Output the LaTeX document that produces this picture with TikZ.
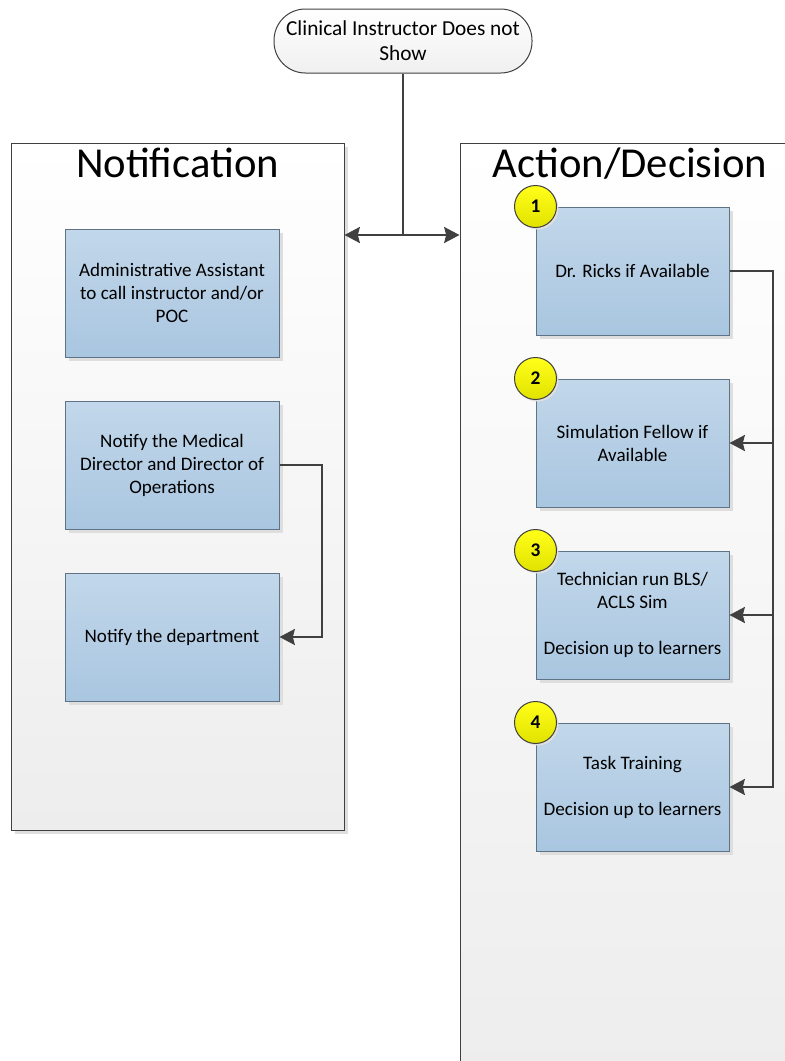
\documentclass[tikz,border=0pt]{standalone}
\usepackage{fontspec}
\setmainfont{Carlito}
\usetikzlibrary{arrows.meta,shadows,calc}
\definecolor{linec}{HTML}{404040}
\definecolor{boxtop}{HTML}{C2D7EA}
\definecolor{boxbot}{HTML}{A9C6E0}
\definecolor{boxborder}{HTML}{5F7286}
\definecolor{lanebot}{HTML}{EDEDED}
\definecolor{ytop}{HTML}{FFFF1A}
\definecolor{ybot}{HTML}{E2E200}
\begin{document}
\begin{tikzpicture}[x=0.75pt,y=-0.75pt,
  boxfont/.style={font=\fontsize{14.3}{17.3}\selectfont},
  shad/.style={drop shadow={shadow xshift=3pt,shadow yshift=-3pt,fill=black!13,opacity=1}},
  lane/.style={draw=linec,line width=0.75pt,top color=white,bottom color=lanebot,shad,inner sep=0pt},
  lanetitle/.style={anchor=base,font=\fontsize{32}{38}\selectfont},
  taskbox/.style={draw=boxborder,line width=0.75pt,top color=boxtop,bottom color=boxbot,shad,
    minimum height=96pt,align=center,boxfont,inner sep=2pt},
  lbox/.style={taskbox,minimum width=160.5pt},
  rbox/.style={taskbox,minimum width=144.75pt},
  numc/.style={circle,draw=linec,line width=0.75pt,top color=ytop,bottom color=ybot,
    minimum size=31.5pt,inner sep=0pt,font=\bfseries\fontsize{14.5}{17}\selectfont,
    drop shadow={shadow xshift=1.5pt,shadow yshift=-1.5pt,fill=black!12,opacity=1}},
  startnode/.style={draw=linec,line width=0.75pt,rounded corners=23.5pt,minimum width=193.5pt,
    minimum height=48pt,top color=white,bottom color=black!6,align=center,
    font=\fontsize{16}{18.8}\selectfont,inner sep=1pt},
  conn/.style={draw=linec,line width=1.6pt},
  arr/.style={-{Stealth[length=11.5pt,width=12pt,inset=1.5pt]}}
]
\clip (0,0) rectangle (785,1061);
\fill[white] (0,0) rectangle (785,1061);

% lanes
\node[lane,minimum width=249.75pt,minimum height=515.25pt] (notif) at (177.5,486.5) {};
\node[lanetitle] (notift) at (177.5,177) {Notification};
\node[lane,minimum width=255pt,minimum height=699pt] (action) at (630,609) {};
\node[lanetitle] (actiont) at (630,177) {Action/Decision};

% start
\node[startnode] (start) at (403,41) {Clinical Instructor Does not\\Show};

% left boxes
\node[lbox] (l1) at (172,293) {Administrative Assistant\\to call instructor and/or\\POC};
\node[lbox] (l2) at (172,465) {Notify the Medical\\Director and Director of\\Operations};
\node[lbox] (l3) at (172,637) {Notify the department};

% right boxes
\node[rbox] (r1) at (632.5,271) {Dr. Ricks if Available};
\node[rbox] (r2) at (632.5,443) {Simulation Fellow if\\Available};
\node[rbox] (r3) at (632.5,615) {Technician run BLS/\\ACLS Sim\\[17.3pt]Decision up to learners};
\node[rbox] (r4) at (632.5,787) {Task Training\\[17.3pt]Decision up to learners};

\node[numc] (c1) at (r1.north west) {1};
\node[numc] (c2) at (r2.north west) {2};
\node[numc] (c3) at (r3.north west) {3};
\node[numc] (c4) at (r4.north west) {4};

% connectors
\coordinate (j) at (403,235);
\draw[conn] (start.south) -- (j);
\draw[conn,arr] (j) -- (notif.east |- j);
\draw[conn,arr] (j) -- (action.west |- j);

\coordinate (lbus) at (322,465);
\draw[conn,arr] (l2.east) -- (lbus) |- (l3.east);

\coordinate (rbus) at (773,271);
\draw[conn,arr] (r1.east) -- (rbus) |- (r4.east);
\draw[conn,arr] (rbus |- r2.east) -- (r2.east);
\draw[conn,arr] (rbus |- r3.east) -- (r3.east);
\end{tikzpicture}
\end{document}
